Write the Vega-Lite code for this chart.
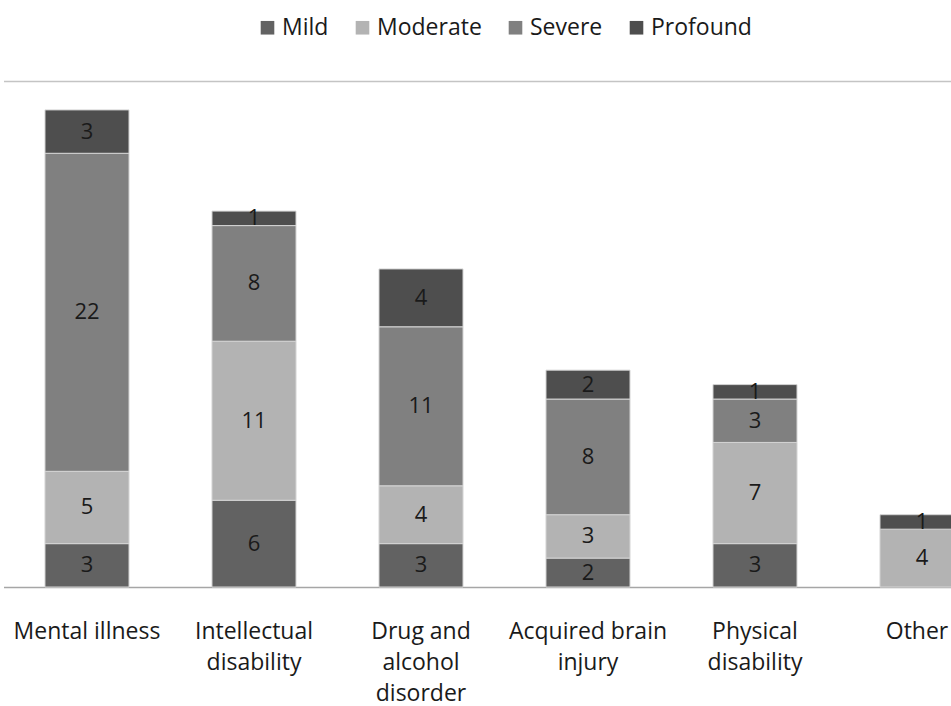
{
  "$schema": "https://vega.github.io/schema/vega-lite/v6.json",
  "autosize": {"type": "none"},
  "width": 951,
  "height": 506,
  "padding": {"left": 0, "top": 81, "right": 0, "bottom": 119},
  "background": "white",
  "config": {
    "view": {"stroke": null},
    "font": "Open Sans"
  },
  "data": {
    "values": [
      {"category": "Mental illness", "level": "Mild", "rank": 1, "count": 3},
      {"category": "Mental illness", "level": "Moderate", "rank": 2, "count": 5},
      {"category": "Mental illness", "level": "Severe", "rank": 3, "count": 22},
      {"category": "Mental illness", "level": "Profound", "rank": 4, "count": 3},
      {"category": "Intellectual disability", "level": "Mild", "rank": 1, "count": 6},
      {"category": "Intellectual disability", "level": "Moderate", "rank": 2, "count": 11},
      {"category": "Intellectual disability", "level": "Severe", "rank": 3, "count": 8},
      {"category": "Intellectual disability", "level": "Profound", "rank": 4, "count": 1},
      {"category": "Drug and alcohol disorder", "level": "Mild", "rank": 1, "count": 3},
      {"category": "Drug and alcohol disorder", "level": "Moderate", "rank": 2, "count": 4},
      {"category": "Drug and alcohol disorder", "level": "Severe", "rank": 3, "count": 11},
      {"category": "Drug and alcohol disorder", "level": "Profound", "rank": 4, "count": 4},
      {"category": "Acquired brain injury", "level": "Mild", "rank": 1, "count": 2},
      {"category": "Acquired brain injury", "level": "Moderate", "rank": 2, "count": 3},
      {"category": "Acquired brain injury", "level": "Severe", "rank": 3, "count": 8},
      {"category": "Acquired brain injury", "level": "Profound", "rank": 4, "count": 2},
      {"category": "Physical disability", "level": "Mild", "rank": 1, "count": 3},
      {"category": "Physical disability", "level": "Moderate", "rank": 2, "count": 7},
      {"category": "Physical disability", "level": "Severe", "rank": 3, "count": 3},
      {"category": "Physical disability", "level": "Profound", "rank": 4, "count": 1},
      {"category": "Other", "level": "Moderate", "rank": 2, "count": 4},
      {"category": "Other", "level": "Profound", "rank": 4, "count": 1}
    ]
  },
  "transform": [
    {"stack": "count", "groupby": ["category"], "sort": [{"field": "rank", "order": "ascending"}], "as": ["y0", "y1"]},
    {"calculate": "(datum.y0 + datum.y1) / 2", "as": "ymid"}
  ],
  "encoding": {
    "x": {
      "field": "category",
      "type": "nominal",
      "sort": ["Mental illness", "Intellectual disability", "Drug and alcohol disorder", "Acquired brain injury", "Physical disability", "Other"],
      "scale": {"range": [3.5, 1005.5], "paddingInner": 0.497, "paddingOuter": 0.2485},
      "axis": {
        "title": null,
        "ticks": false,
        "domainColor": "#a6a6a6",
        "domainWidth": 1.5,
        "labelAngle": 0,
        "labelFontSize": 23,
        "labelColor": "#1a1a1a",
        "labelPadding": 33,
        "labelLineHeight": 31,
        "labelBaseline": "top",
        "labelOverlap": false,
        "labelBound": false,
        "labelOffset": {"condition": {"test": "datum.value == 'Other'", "value": -5}, "value": 0},
        "labelExpr": "datum.value == 'Intellectual disability' ? ['Intellectual', 'disability'] : datum.value == 'Drug and alcohol disorder' ? ['Drug and', 'alcohol', 'disorder'] : datum.value == 'Acquired brain injury' ? ['Acquired brain', 'injury'] : datum.value == 'Physical disability' ? ['Physical', 'disability'] : datum.value"
      }
    }
  },
  "layer": [
    {
      "mark": {"type": "bar", "stroke": "#d4d4d4", "strokeWidth": 1},
      "encoding": {
        "y": {
          "field": "y0",
          "type": "quantitative",
          "scale": {"domain": [0, 35], "nice": false},
          "axis": {"values": [35], "grid": true, "gridColor": "#c4c4c4", "gridWidth": 1.5, "labels": false, "ticks": false, "domain": false, "title": null}
        },
        "y2": {"field": "y1"},
        "color": {
          "field": "level",
          "type": "nominal",
          "sort": ["Mild", "Moderate", "Severe", "Profound"],
          "scale": {"domain": ["Mild", "Moderate", "Severe", "Profound"], "range": ["#626262", "#b3b3b3", "#808080", "#4e4e4e"]},
          "legend": {
            "title": null,
            "orient": "none",
            "direction": "horizontal",
            "legendX": 256,
            "legendY": -65,
            "symbolType": "square",
            "symbolSize": 185,
            "symbolStrokeWidth": 0,
            "labelFontSize": 23,
            "labelColor": "#1a1a1a",
            "labelOffset": 3,
            "columnPadding": 22
          }
        }
      }
    },
    {
      "mark": {"type": "text", "fontSize": 22, "color": "#1a1a1a", "baseline": "middle", "align": "center"},
      "encoding": {
        "y": {"field": "ymid", "type": "quantitative"},
        "text": {"field": "count", "type": "quantitative"}
      }
    }
  ]
}
